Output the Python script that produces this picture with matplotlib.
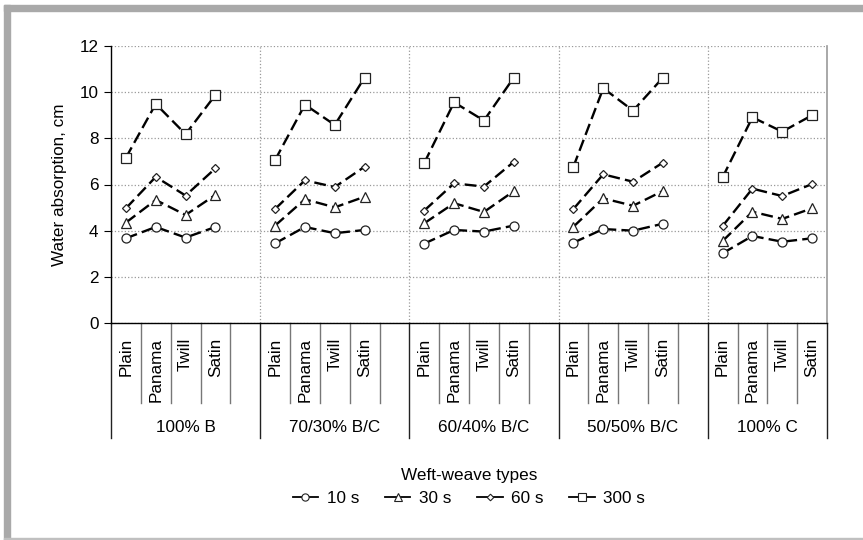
import numpy as np
import matplotlib
matplotlib.use('Agg')
import matplotlib.pyplot as plt
from matplotlib.lines import Line2D
from matplotlib.patches import Rectangle

plt.rcParams['font.family'] = ['Liberation Sans', 'DejaVu Sans']
plt.rcParams['font.size'] = 12.3

# blends (groups) and weave types
groups = ['100% B', '70/30% B/C', '60/40% B/C', '50/50% B/C', '100% C']
weaves = ['Plain', 'Panama', 'Twill', 'Satin']
series_labels = ['10 s', '30 s', '60 s', '300 s']

# water absorption, cm  (rows = groups, cols = weaves)
abs_10s = [[3.67, 4.16, 3.70, 4.16],
           [3.45, 4.16, 3.89, 4.03],
           [3.44, 4.03, 3.96, 4.22],
           [3.48, 4.07, 4.00, 4.30],
           [3.02, 3.77, 3.52, 3.67]]
abs_30s = [[4.35, 5.33, 4.68, 5.55],
           [4.22, 5.36, 5.01, 5.47],
           [4.32, 5.19, 4.81, 5.71],
           [4.17, 5.40, 5.08, 5.72],
           [3.55, 4.82, 4.51, 4.97]]
abs_60s = [[4.97, 6.33, 5.52, 6.70],
           [4.94, 6.18, 5.89, 6.77],
           [4.87, 6.05, 5.91, 6.98],
           [4.94, 6.44, 6.12, 6.95],
           [4.20, 5.82, 5.50, 6.02]]
abs_300s = [[7.16, 9.49, 8.18, 9.88],
            [7.06, 9.46, 8.58, 10.63],
            [6.93, 9.56, 8.77, 10.63],
            [6.77, 10.17, 9.20, 10.63],
            [6.31, 8.91, 8.29, 9.00]]

all_series = [abs_10s, abs_30s, abs_60s, abs_300s]
markers = ['o', '^', 'D', 's']
msizes = [6.5, 6.5, 4.2, 7.2]

W, H = 863, 540
fig = plt.figure(figsize=(W / 100, H / 100), dpi=100)

# grey frame
frame_col = '#a9a9a9'
fig.patches.append(Rectangle((4 / W, 0), 6 / W, 1 - 5 / H, transform=fig.transFigure,
                             color=frame_col, zorder=0))
fig.patches.append(Rectangle((4 / W, 1 - 11 / H), 1 - 4 / W, 6 / H, transform=fig.transFigure,
                             color=frame_col, zorder=0))
fig.patches.append(Rectangle((4 / W, 0), 1 - 4 / W, 2 / H, transform=fig.transFigure,
                             color='#c0c0c0', zorder=0))

ax = fig.add_axes([111 / W, 1 - 323 / H, (827 - 111) / W, (323 - 46) / H])

n_slots = len(groups) * (len(weaves) + 1) - 1
slot = len(weaves) + 1

for data, mk, ms in zip(all_series, markers, msizes):
    data = np.array(data)
    for g in range(len(groups)):
        x = g * slot + np.arange(len(weaves)) + 0.5
        ax.plot(x, data[g], color='black', lw=1.7, dashes=(5, 2.2),
                marker=mk, ms=ms, mfc='white', mec='#222222', mew=0.9, zorder=3)

ax.set_xlim(0, n_slots)
ax.set_ylim(0, 12)
ax.set_yticks(np.arange(0, 13, 2))
ax.tick_params(axis='y', direction='out', length=5, width=0.8, pad=4)
ax.set_xticks([])

# grid
ax.grid(axis='y', linestyle=':', color='#999999', lw=0.9)
for g in range(1, len(groups)):
    ax.axvline(g * slot, color='#999999', linestyle=':', lw=0.9, zorder=1)
ax.set_axisbelow(True)

ax.spines['top'].set_visible(False)
ax.spines['right'].set_color('#999999')
ax.spines['right'].set_linewidth(1.2)
ax.spines['left'].set_linewidth(1.0)
ax.spines['bottom'].set_linewidth(1.0)

ax.set_ylabel('Water absorption, cm', labelpad=9)

# category axis table
trans = ax.get_xaxis_transform()
ax_h = 323 - 46
y_tick_end = -(403 - 323) / ax_h
y_grp_end = -(438 - 323) / ax_h
y_lab = -(338 - 323) / ax_h
y_grp_lab = -(428 - 323) / ax_h

for i in range(n_slots + 1):
    if i % slot == 0 or i == n_slots:
        ax.plot([i, i], [0, y_grp_end], transform=trans, color='#222222', lw=1.0, clip_on=False)
    else:
        ax.plot([i, i], [0, y_tick_end], transform=trans, color='#777777', lw=1.0, clip_on=False)

for g, gname in enumerate(groups):
    for w, wname in enumerate(weaves):
        ax.text(g * slot + w + 0.5, y_lab, wname, rotation=90, ha='center', va='top',
                transform=trans)
    ax.text(g * slot + len(weaves) / 2 + 0.5 if g < len(groups) - 1 else g * slot + len(weaves) / 2,
            y_grp_lab, gname, ha='center', va='center', transform=trans)

# legend
handles = [Line2D([], [], color='black', lw=1.3, marker=mk, ms=ms * 0.8, mfc='white',
                  mec='#222222', mew=0.8) for mk, ms in zip(markers, msizes)]
leg = ax.legend(handles, series_labels, loc='upper center',
                bbox_to_anchor=(0.5, -(459 - 323) / ax_h), ncol=4, frameon=False,
                title='Weft-weave types', handlelength=1.5, handletextpad=0.5,
                columnspacing=1.5, borderpad=0, labelspacing=0.2)
leg.get_title().set_fontsize(12.3)
leg._legend_box.sep = 6

fig.savefig('out.png', dpi=100)
